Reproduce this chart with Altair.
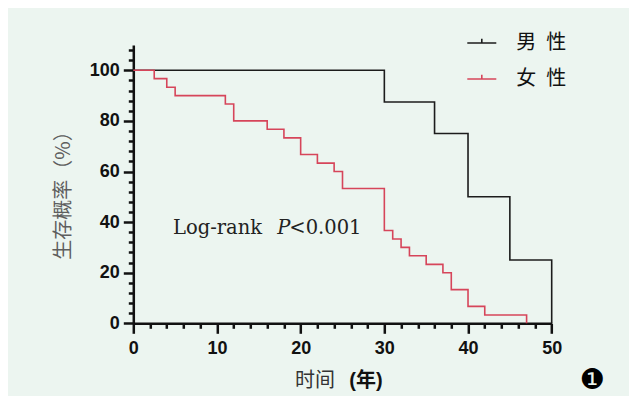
import altair as alt
import pandas as pd

# ---- data ----
groups = ["男\u2002性", "女\u2002性"]
male_time = [0, 30, 36, 40, 45, 50]
male_surv = [100, 87.5, 75, 50, 25, 0]
female_time = [0, 2.5, 4, 5, 11, 12, 16, 18, 20, 22, 24, 25, 30, 31, 32, 33, 35, 37, 38, 40, 42, 47]
female_surv = [100, 96.7, 93.3, 90, 86.7, 80, 76.7, 73.3, 66.7, 63.3, 60, 53.3,
               36.7, 33.3, 30, 26.7, 23.3, 20, 13.3, 6.7, 3.3, 0]
x_tick_values = list(range(0, 51, 2))
y_tick_values = list(range(0, 109, 4))
colors = ["#1c1c1c", "#d6455a"]
y_title = "生存概率（%）"
x_title_a = "时间"
x_title_b = "(年)"
ann_a, ann_p, ann_b = "Log-rank", "P", "<0.001"
badge = "\u2776"

rows = [{"group": groups[0], "time": t, "surv": s} for t, s in zip(male_time, male_surv)]
rows += [{"group": groups[1], "time": t, "surv": s} for t, s in zip(female_time, female_surv)]
df = pd.DataFrame(rows)

W, H = 418.4, 278.3
PAD_L, PAD_T = 125.3, 37
TOTAL_W, TOTAL_H = 621, 388
BG = "#ecf5f0"
AXC = "#111111"
CJK = "Noto Sans CJK SC"

x_scale = alt.Scale(domain=[0, 50], nice=False, zero=False)
y_scale = alt.Scale(domain=[0, 110], nice=False)

x_axis = alt.Axis(
    values=x_tick_values,
    labelExpr="datum.value % 10 === 0 ? datum.label : ''",
    tickSize={"condition": {"test": "datum.value % 10 === 0", "value": 10}, "value": 5},
    title=None, grid=False, labelOverlap=False, labelFlush=False,
    labelFont="Liberation Sans", labelFontSize=18, labelFontWeight="bold", labelColor=AXC,
    labelPadding=6, domainColor=AXC, domainWidth=2.5, tickColor=AXC, tickWidth=2.5,
)
y_axis = alt.Axis(
    values=y_tick_values,
    labelExpr="datum.value % 20 === 0 && datum.value <= 100 ? datum.label : ''",
    tickSize={"condition": {"test": "datum.value % 20 === 0", "value": 10}, "value": 5},
    title=y_title, titleFont=CJK, titleFontSize=20, titleFontWeight="normal", titleColor="#5e5e5e",
    titleAngle=270, titleX=-70, titleY=145, titleAlign="center", titleBaseline="middle",
    grid=False, labelOverlap=False, labelFlush=False,
    labelFont="Liberation Sans", labelFontSize=18, labelFontWeight="bold", labelColor=AXC,
    labelPadding=4, domainColor=AXC, domainWidth=2.5, tickColor=AXC, tickWidth=2.5,
)

lines = alt.Chart(df).mark_line(interpolate="step-after", strokeWidth=1.6).encode(
    x=alt.X("time:Q", scale=x_scale, axis=x_axis),
    y=alt.Y("surv:Q", scale=y_scale, axis=y_axis),
    color=alt.Color(
        "group:N", sort=groups,
        scale=alt.Scale(domain=groups, range=colors),
        legend=alt.Legend(
            orient="none", legendX=333, legendY=-17.5, title=None, padding=0,
            symbolType="M-1,0L1,0M0,0L0,-0.3", symbolSize=841, symbolStrokeWidth=1.6,
            labelFont=CJK, labelFontSize=20, labelColor="#111111", labelOffset=19,
            rowPadding=10,
        ),
    ),
)

one = pd.DataFrame({"k": [0]})

def label(text, x, y, **kw):
    return alt.Chart(one).mark_text(text=text, **kw).encode(x=alt.value(x), y=alt.value(y))

serif = dict(font="DejaVu Serif", fontSize=19.5, color="#222222", align="left", baseline="alphabetic")
t1 = label(ann_a, 39.7, 189, **serif)
t2 = label(ann_p, 144, 189, fontStyle="italic", **serif)
t3 = label(ann_b, 156, 189, **serif)

xt1 = label(x_title_a, 161.7, 336, font=CJK, fontSize=20, color="#333333", align="left", baseline="middle")
xt2 = label(x_title_b, 216, 336, font="Liberation Sans, Noto Sans CJK SC", fontSize=20, fontWeight="bold",
            color="#111111", align="left", baseline="middle")
bd = label(badge, 459, 336, font="DejaVu Sans", fontSize=28, color="#000000", align="center", baseline="middle")

chart = alt.layer(lines, t1, t2, t3, xt1, xt2, bd).properties(
    width=W, height=H,
    autosize=alt.AutoSizeParams(type="none"),
    padding={"left": PAD_L, "top": PAD_T, "right": TOTAL_W - PAD_L - W, "bottom": TOTAL_H - PAD_T - H},
    background=BG,
).configure_view(stroke=None)

chart.save("out.html", embed_options={"renderer": "svg", "actions": False})
